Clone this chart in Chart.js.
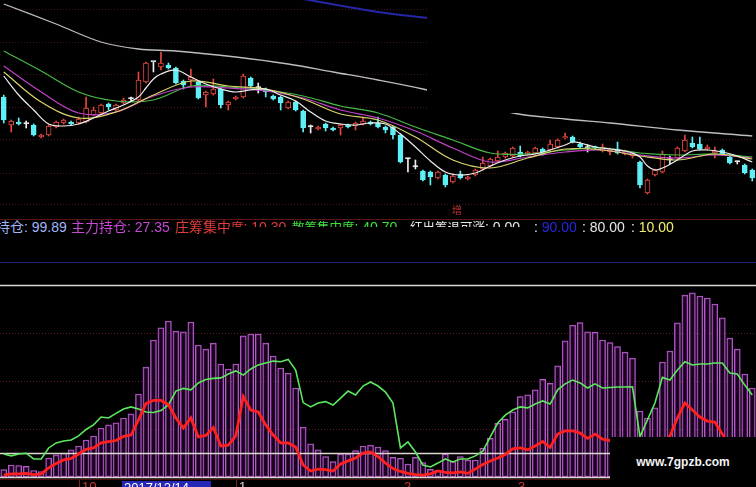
<!DOCTYPE html>
<html lang="zh-CN">
<head>
<meta charset="utf-8">
<title>K线与筹码指标</title>
<script src="https://cdn.jsdelivr.net/npm/chart.js@4.4.1/dist/chart.umd.min.js"></script>
<style>
  html, body { margin:0; padding:0; background:#000; }
  #stage { position:relative; width:756px; height:487px; overflow:hidden; background:#000;
           font-family:"Liberation Sans", Arial, "Noto Sans CJK SC", sans-serif; }
  #stage canvas { position:absolute; left:0; }
  #kline { top:0; }
  #chips { top:280px; }
  .abs { position:absolute; white-space:nowrap; }
  .rule { position:absolute; left:0; width:756px; height:1px; }
  .legend { top:219px; font-size:14px; line-height:16px; }
  .legend .cjk { font-size:12.5px; }
  .cover { position:absolute; background:#000; }
  .axis { top:480px; font-size:13px; line-height:14px; }
</style>
</head>
<body>
<div id="stage">
  <canvas id="kline" width="756" height="216"></canvas>
  <div class="cover" style="left:427px;top:0;width:329px;height:113px"></div>
  <div class="abs" style="left:452px;top:205px;font-size:10px;line-height:11px;color:#c03434">增</div>
  <div class="rule" style="top:219px;background:#5c1515"></div>

  <div class="abs legend" style="left:-4px;color:#a2b6fa">持仓: 99.89</div>
  <div class="abs legend" style="left:71px;color:#c848d4">主力持仓: 27.35</div>
  <div class="abs legend" style="left:175px;color:#e23c3c">庄筹集中<span class="cjk">度</span>: 10.30</div>
  <div class="abs legend" style="left:292px;color:#40e040"><span class="cjk">散筹集中度</span>: 40.70</div>
  <div class="abs legend" style="left:410px;color:#e6e6e6"><span class="cjk">红出筹退可涨</span>: 0.00</div>
  <div class="cover" style="left:229px;top:227px;width:296px;height:12px"></div>
  <div class="abs legend" style="left:534px;color:#e6e6e6">: <span style="color:#2626e2">90.00</span></div>
  <div class="abs legend" style="left:582px;color:#e6e6e6">: 80.00</div>
  <div class="abs legend" style="left:631px;color:#e6e6e6">: <span style="color:#f2f070">10.00</span></div>

  <div class="rule" style="top:262px;background:#1e1e6e"></div>

  <canvas id="chips" width="756" height="200"></canvas>

  <div class="rule" style="top:479px;background:#4a1010"></div>
  <div class="abs" style="left:79px;top:480px;width:1px;height:7px;background:#7c1e1e"></div>
  <div class="abs" style="left:236px;top:480px;width:1px;height:7px;background:#7c1e1e"></div>
  <div class="abs axis" style="left:82px;color:#d83434">10</div>
  <div class="abs axis" style="left:122px;top:481px;width:87px;padding-left:2px;background:#2626b8;color:#fff">2017/12/14</div>
  <div class="abs axis" style="left:239px;color:#e8d0d0">1</div>
  <div class="abs axis" style="left:404px;color:#d83434">2</div>
  <div class="abs axis" style="left:518px;color:#d83434">3</div>

  <div class="cover" style="left:610px;top:437px;width:146px;height:50px"></div>
  <div class="abs" style="left:610px;top:455px;width:146px;text-align:center;color:#f4f4f4;font:bold 12px 'Liberation Sans', Arial, sans-serif">www.7gpzb.com</div>
</div>

<script>
// ---------- daily prices ----------
const OPEN = [15.15,13.75,13.90,13.80,13.75,13.15,13.25,13.65,13.85,13.90,
  13.85,13.90,14.25,14.35,14.80,14.50,14.85,15.05,15.00,15.90,
  16.90,16.65,16.75,16.60,15.95,16.00,15.90,15.25,15.30,15.55,
  14.75,15.05,15.15,16.10,15.60,15.55,15.20,15.15,14.60,14.90,
  14.45,13.65,13.55,13.80,13.60,13.60,13.75,13.70,13.80,13.90,
  13.85,13.65,13.65,13.25,12.05,11.65,11.45,11.40,11.10,11.25,
  10.90,11.30,11.05,11.25,11.55,11.70,11.95,12.15,12.20,12.40,
  12.30,12.35,12.55,12.50,12.65,13.10,13.15,12.80,12.60,12.65,
  12.45,12.40,12.55,12.30,12.20,11.90,10.35,11.25,11.40,12.00,
  12.10,12.45,12.85,12.80,12.55,12.35,12.50,12.15,11.90,11.75,11.50];
const CLOSE = [14.00,13.95,13.80,13.80,13.25,13.25,13.70,13.90,14.00,13.80,
  14.05,14.60,14.50,14.75,14.65,14.75,15.00,15.05,16.00,16.85,
  16.90,16.85,16.60,15.85,15.75,16.15,15.10,15.40,15.55,14.75,
  14.90,15.15,16.20,15.70,15.60,15.40,15.05,14.85,14.90,14.50,
  13.60,13.65,13.65,13.60,13.50,13.75,13.65,13.85,13.95,13.80,
  13.65,13.50,13.25,11.90,12.05,11.65,11.00,11.15,11.40,10.75,
  11.20,11.10,11.15,11.50,11.85,12.05,12.15,12.35,12.60,12.20,
  12.40,12.60,12.30,12.80,13.00,13.15,12.90,12.65,12.60,12.60,
  12.65,12.55,12.35,12.45,12.35,10.75,11.00,11.50,12.30,12.00,
  12.60,13.00,12.65,12.55,12.65,12.45,12.30,11.85,11.90,11.35,11.10];
const HIGH = [15.25,14.00,14.10,13.95,13.80,13.30,13.75,13.95,14.05,13.95,
  14.15,15.15,14.65,14.80,14.85,14.80,15.10,15.15,16.40,16.90,
  16.90,17.40,16.85,16.65,16.00,16.55,15.95,15.45,16.05,15.60,
  14.95,15.20,16.30,16.15,15.85,15.60,15.25,15.20,14.95,14.95,
  14.50,13.75,13.70,13.85,13.65,13.80,13.80,13.90,14.10,13.95,
  14.15,13.70,13.70,13.30,12.10,12.00,11.50,11.45,11.45,11.30,
  11.25,11.45,11.20,11.55,12.15,12.10,12.45,12.40,12.65,12.70,
  12.45,12.65,12.60,13.00,13.05,13.35,13.20,12.90,12.75,12.70,
  12.80,12.60,12.90,12.50,12.40,11.95,11.05,11.55,12.45,12.20,
  12.65,13.25,13.15,13.15,12.75,12.65,12.55,12.20,11.95,11.80,11.55];
const LOW = [13.85,13.40,13.75,13.60,13.20,13.10,13.20,13.60,13.80,13.75,
  13.80,13.85,14.20,14.30,14.50,14.45,14.80,14.95,14.95,15.85,
  16.40,16.50,16.55,15.80,15.55,15.65,15.05,14.65,15.25,14.60,
  14.50,15.00,15.10,15.65,15.35,15.15,15.00,14.50,14.55,14.45,
  13.40,13.35,13.50,13.45,13.45,13.25,13.60,13.50,13.75,13.75,
  13.60,13.35,13.05,11.85,11.40,11.55,10.95,10.75,11.05,10.65,
  10.85,11.05,11.00,11.20,11.50,11.65,11.90,12.10,12.15,12.15,
  12.25,12.30,12.25,12.45,12.60,13.05,12.85,12.60,12.40,12.55,
  12.40,12.25,12.30,12.25,12.10,10.60,10.30,11.20,11.35,11.80,
  12.05,12.40,12.60,12.50,12.50,12.10,12.25,11.80,11.80,11.30,10.95];

// ---------- moving averages (day index -> price) ----------
const MA5_DAYS = [0,2,4,6,8,10,12,14,16,18,19,20,21,23,25,27,29,31,33,35,
  37,39,41,43,45,47,49,51,53,55,57,59,61,63,65,67,69,71,73,75,
  76,77,79,81,83,84,85,86,87,88,90,92,94,96,98,100];
const MA5 = [16.20,15.25,14.50,13.80,13.70,13.80,14.10,14.45,14.75,15.15,
  15.60,16.05,16.30,16.50,16.15,15.80,15.55,15.40,15.50,15.55,
  15.25,14.95,14.40,13.95,13.80,13.75,13.85,13.80,13.30,12.65,
  11.95,11.40,11.25,11.35,11.70,12.00,12.20,12.30,12.50,12.75,
  12.90,12.85,12.65,12.55,12.45,12.35,12.15,11.70,11.50,11.60,
  12.00,12.45,12.50,12.40,12.20,11.90];
const MA_DAYS = [0,5,10,15,20,25,30,35,40,45,50,55,60,65,70,75,80,85,90,95,100];
const MA10 = [16.40,14.90,14.10,14.40,15.25,15.95,15.70,15.55,15.05,14.30,14.00,
  13.15,12.00,11.60,12.10,12.55,12.50,12.20,12.00,12.30,12.05];
const MA20 = [16.70,15.40,14.35,14.40,15.20,15.65,15.60,15.45,15.10,14.50,14.10,
  13.45,12.60,11.90,12.15,12.40,12.50,12.25,12.10,12.25,12.10];
const MA30 = [17.45,16.45,15.40,14.95,15.00,15.70,15.65,15.50,15.20,14.70,14.35,
  13.65,13.00,12.35,12.30,12.50,12.60,12.35,12.25,12.30,12.15];
const MA120_DAYS = [0,7,13,18,23,31,38,44,50,56,62,68,75,81,90,100];
const MA120 = [19.80,18.80,17.90,17.55,17.45,17.15,16.80,16.40,16.00,15.55,15.00,
  14.35,14.05,13.85,13.50,13.20];
const MA250_DAYS = [40,50,57,62];
const MA250 = [20.05,19.40,19.08,18.80];
const PRICE_GRID = [19.55,17.90,16.30,14.65,13.05,11.35,9.80];

// ---------- chip indicator ----------
const CHIP_BARS = [3.1,5.0,4.8,4.4,2.7,2.3,7.9,9.2,10.0,11.3,
  12.9,15.4,17.1,20.4,21.7,22.6,24.6,26.3,34.6,45.8,
  57.1,62.2,65.0,60.8,60.5,64.6,55.0,53.3,55.8,47.1,
  45.0,47.1,58.8,59.6,59.6,55.8,50.4,45.4,43.3,37.1,
  20.8,13.8,11.3,8.5,6.4,9.6,9.6,11.0,12.9,13.3,
  12.5,11.0,8.2,7.8,5.4,8.2,6.0,3.2,2.9,9.6,
  6.4,8.5,7.1,7.1,12.0,16.1,22.4,24.0,27.2,33.5,
  34.2,36.3,40.7,39.0,46.3,56.7,63.3,64.3,60.5,60.3,
  57.1,56.0,54.3,52.0,49.5,27.5,24.6,28.8,47.9,52.5,
  64.2,75.8,76.7,75.4,74.6,72.1,66.3,57.9,53.3,42.9,37.1];
const RETAIL_LINE = [9.6,8.8,9.6,9.9,7.5,7.5,12.1,14.2,15.0,15.4,
  17.1,19.8,21.7,25.0,24.6,26.5,28.3,29.2,28.3,27.1,
  26.9,27.7,30.0,35.8,36.9,36.3,39.2,40.6,41.1,41.3,
  42.9,44.2,42.5,45.0,46.7,47.5,48.3,48.0,49.0,44.6,
  31.0,29.2,30.8,31.4,30.0,32.9,35.8,34.2,37.9,39.6,
  37.9,35.4,30.8,12.1,14.6,10.4,5.0,4.2,5.8,7.5,
  6.3,7.5,7.5,8.8,10.8,16.7,22.5,25.8,27.9,29.2,
  28.8,30.4,31.7,30.4,36.3,38.8,40.4,39.2,37.1,38.8,
  37.1,37.3,37.5,37.5,37.6,16.8,23.8,30.8,41.5,40.4,
  44.6,48.0,46.7,47.1,47.1,47.5,47.5,43.3,42.9,38.3,34.2];
const DEALER_LINE = [0.8,1.3,1.3,1.5,1.0,1.3,3.8,5.6,7.1,7.7,
  9.6,11.5,12.1,14.2,14.7,15.2,16.9,17.5,23.8,30.6,
  31.9,31.9,30.2,24.6,20.4,24.6,16.7,17.3,20.6,12.9,
  13.3,17.1,33.5,27.9,27.1,21.7,17.5,14.2,14.2,12.5,
  5.0,2.5,3.3,3.1,2.5,5.4,6.7,7.9,10.0,10.4,
  8.5,5.8,3.5,2.3,1.5,1.0,0.8,1.3,2.5,1.9,
  1.7,2.1,1.5,3.3,5.2,6.7,7.9,9.4,11.7,12.1,
  11.3,12.9,14.8,12.3,17.9,19.2,19.2,18.3,16.1,17.9,
  15.8,15.2,13.3,11.3,9.2,5.0,3.8,6.3,12.1,17.1,
  24.6,30.8,27.9,25.0,23.3,22.9,17.9,13.3,10.4,9.2,10.3];
const CHIP_GRID = [20, 40, 60];
const CHIP_LEVELS = [80, 10, 0];

// ---------- helpers ----------
const UP = '#e4483f', DOWN = '#5ef0f6', FLAT = '#f0f0f0';
const tone = i => CLOSE[i] > OPEN[i] ? UP : (CLOSE[i] < OPEN[i] ? DOWN : FLAT);
const days = OPEN.map((_, i) => i);
const points = (xs, ys) => xs.map((x, k) => ({ x, y: ys[k] }));

// horizontal reference lines drawn through the chart's own y scale
function levelLines(id, hook, levels, color, width, dash) {
  return {
    id,
    [hook](chart, args) {
      if (hook === 'afterDatasetDraw' && args.meta.type !== 'bar') return;
      const { ctx, chartArea, scales } = chart;
      ctx.save();
      ctx.strokeStyle = color;
      ctx.lineWidth = width;
      ctx.setLineDash(dash);
      for (const v of levels) {
        const y = Math.round(scales.y.getPixelForValue(v)) + 0.5;
        ctx.beginPath();
        ctx.moveTo(chartArea.left, y);
        ctx.lineTo(chartArea.right, y);
        ctx.stroke();
      }
      ctx.restore();
    }
  };
}

const maLine = (xs, ys, color, width) => ({
  type: 'line', data: points(xs, ys), borderColor: color, borderWidth: width,
  pointRadius: 0, fill: false, tension: 0.35, order: 0
});

const baseOptions = (yMin, yMax) => ({
  responsive: false, animation: false, events: [],
  layout: { padding: 0 },
  plugins: { legend: { display: false }, tooltip: { enabled: false } },
  scales: {
    x: { type: 'linear', min: -0.5, max: 100.5, offset: false, display: false },
    y: { min: yMin, max: yMax, display: false }
  }
});

// ---------- candlestick panel ----------
new Chart(document.getElementById('kline'), {
  type: 'bar',
  data: {
    datasets: [
      maLine(MA5_DAYS, MA5, '#eeeeee', 1.2),
      maLine(MA_DAYS, MA10, '#dcd46a', 1.2),
      maLine(MA_DAYS, MA20, '#c040c8', 1.2),
      maLine(MA_DAYS, MA30, '#48b848', 1.2),
      maLine(MA120_DAYS, MA120, '#bdbdbd', 1.3),
      maLine(MA250_DAYS, MA250, '#2626a6', 2),
      {
        data: days.map(i => ({ x: i, y: [OPEN[i], CLOSE[i]] })),
        backgroundColor: c => tone(c.dataIndex) === UP ? '#000' : tone(c.dataIndex),
        borderColor: c => tone(c.dataIndex),
        borderWidth: 1, borderSkipped: false, minBarLength: 1.5,
        barThickness: 5, grouped: false, order: 5
      },
      {
        data: days.map(i => ({ x: i, y: [LOW[i], HIGH[i]] })),
        backgroundColor: c => tone(c.dataIndex),
        borderWidth: 0, barThickness: 1, grouped: false, order: 6
      }
    ]
  },
  options: baseOptions(9.2, 20),
  plugins: [levelLines('priceGrid', 'beforeDatasetsDraw', PRICE_GRID, 'rgba(110,36,36,0.6)', 1, [1, 2])]
});

// ---------- chip distribution panel ----------
new Chart(document.getElementById('chips'), {
  type: 'bar',
  data: {
    datasets: [
      {
        type: 'line', data: points(days, DEALER_LINE), borderColor: '#ff2020',
        borderWidth: 2.8, pointRadius: 0, tension: 0, order: 0
      },
      {
        type: 'line', data: points(days, RETAIL_LINE), borderColor: '#5ce85c',
        borderWidth: 1.6, pointRadius: 0, tension: 0, order: 1
      },
      {
        data: points(days, CHIP_BARS),
        backgroundColor: 'rgba(50,6,60,0.5)', borderColor: '#b85ccc',
        borderWidth: 1, borderSkipped: false, barThickness: 6, grouped: false, order: 2
      }
    ]
  },
  options: baseOptions(-1.25, 82.0833),
  plugins: [
    levelLines('chipGrid', 'beforeDatasetsDraw', CHIP_GRID, 'rgba(130,40,40,0.75)', 1, [1, 2]),
    levelLines('chipLevels', 'afterDatasetDraw', CHIP_LEVELS, '#dcd8d0', 1.5, [])
  ]
});
</script>
</body>
</html>
